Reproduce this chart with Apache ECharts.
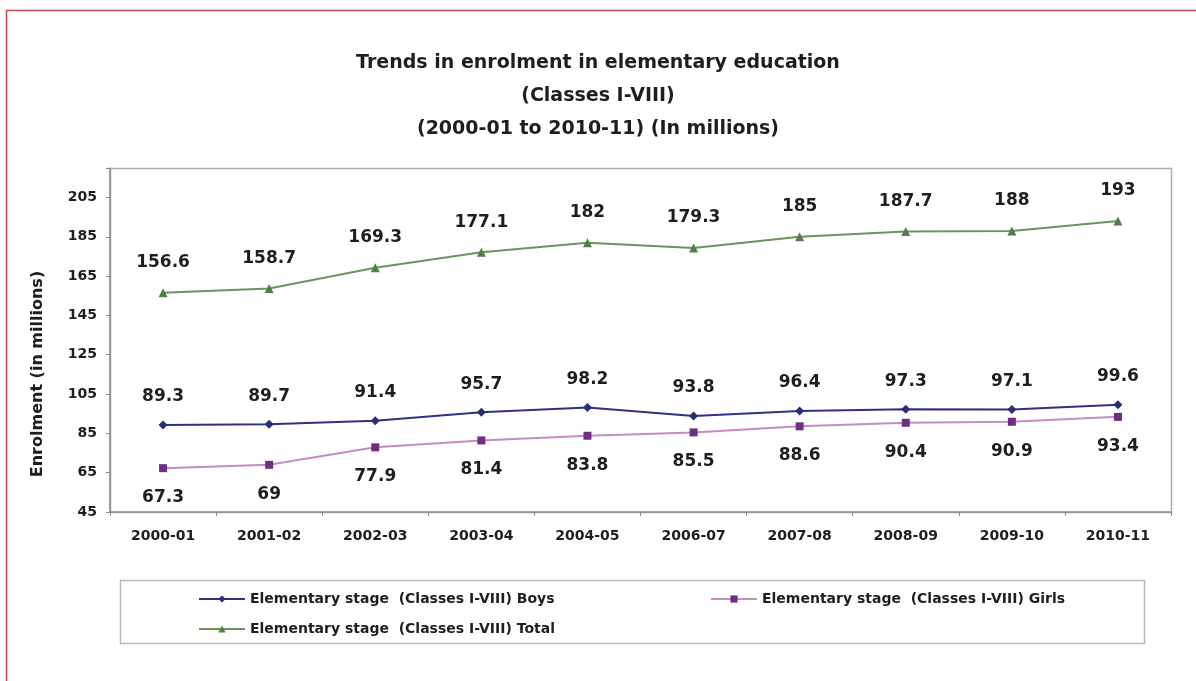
<!DOCTYPE html>
<html>
<head>
<meta charset="utf-8">
<script src="https://cdn.jsdelivr.net/npm/echarts@6/dist/echarts.min.js"></script>
<style>
  html, body { margin: 0; padding: 0; background: #fff; }
  #chart { width: 1196px; height: 681px; }
</style>
</head>
<body>
<div id="chart"></div>
<script>
// Enrolment in elementary education, in millions
const years = ['2000-01', '2001-02', '2002-03', '2003-04', '2004-05', '2006-07', '2007-08', '2008-09', '2009-10', '2010-11'];
const boys  = [89.3, 89.7, 91.4, 95.7, 98.2, 93.8, 96.4, 97.3, 97.1, 99.6];
const girls = [67.3, 69, 77.9, 81.4, 83.8, 85.5, 88.6, 90.4, 90.9, 93.4];
const total = [156.6, 158.7, 169.3, 177.1, 182, 179.3, 185, 187.7, 188, 193];
const yTicks = [45, 65, 85, 105, 125, 145, 165, 185, 205];

const nameBoys  = 'Elementary stage  (Classes I-VIII) Boys';
const nameGirls = 'Elementary stage  (Classes I-VIII) Girls';
const nameTotal = 'Elementary stage  (Classes I-VIII) Total';
const yTitle = 'Enrolment (in millions)';

const FONT = '"DejaVu Sans", Verdana, sans-serif';
const INK = '#1e1e1e';
const chart = echarts.init(document.getElementById('chart'));

const labelStyle = (pos, dist) => ({
  show: true, position: pos, distance: dist,
  fontFamily: FONT, fontWeight: 'bold', fontSize: 17, color: INK
});

const legendText = { fontFamily: FONT, fontWeight: 'bold', fontSize: 14, color: INK };
const legendItem = (name, left, top) => ({
  data: [name], left: left, top: top,
  itemWidth: 46, itemHeight: 9, itemGap: 6,
  textStyle: legendText
});

chart.setOption({
  backgroundColor: '#ffffff',
  animation: false,
  title: {
    text: 'Trends in enrolment in elementary education\n(Classes I-VIII)\n(2000-01 to 2010-11) (In millions)',
    left: 'center', top: 42,
    textStyle: { fontFamily: FONT, fontWeight: 'bold', fontSize: 19, lineHeight: 33, color: INK }
  },
  graphic: [
    { type: 'rect', shape: { x: 6.5, y: 10.5, width: 1200, height: 700 }, style: { fill: 'none', stroke: '#c0484c', lineWidth: 1.5 }, silent: true },
    { type: 'rect', shape: { x: 110.5, y: 168.5, width: 1061, height: 344 }, style: { fill: 'none', stroke: '#a9b4a9', lineWidth: 1.5 }, silent: true, z: 0 },
    { type: 'rect', shape: { x: 120.5, y: 580.5, width: 1024, height: 63 }, style: { fill: 'none', stroke: '#b8b8b8', lineWidth: 1.5 }, silent: true },
    {
      type: 'text', x: 38, y: 374, rotation: Math.PI / 2, silent: true,
      style: { text: yTitle, fontFamily: FONT, fontWeight: 'bold', fontSize: 16, fill: INK, align: 'center', verticalAlign: 'middle' }
    }
  ],
  grid: { left: 110, right: 25, top: 168, bottom: 169, containLabel: false },
  xAxis: {
    type: 'category', data: years, boundaryGap: true,
    axisLine: { lineStyle: { color: '#8a8a8a', width: 1.5 } },
    axisTick: { show: true, alignWithLabel: false, length: 4, lineStyle: { color: '#8a8a8a' } },
    axisLabel: { fontFamily: FONT, fontWeight: 'bold', fontSize: 14, color: INK, margin: 17 }
  },
  yAxis: {
    type: 'value', min: 45, max: 220, interval: 20,
    axisLine: { show: true, lineStyle: { color: '#8a8a8a', width: 1.5 } },
    axisTick: { show: true, length: 4, lineStyle: { color: '#8a8a8a' } },
    splitLine: { show: false },
    axisLabel: {
      fontFamily: FONT, fontWeight: 'bold', fontSize: 14, color: INK, margin: 13,
      formatter: v => (yTicks.indexOf(v) >= 0 ? String(v) : '')
    }
  },
  legend: [
    legendItem(nameBoys, 193, 587),
    legendItem(nameGirls, 705, 587),
    legendItem(nameTotal, 193, 617)
  ],
  series: [
    {
      name: nameBoys, type: 'line', data: boys,
      symbol: 'diamond', symbolSize: 9,
      lineStyle: { color: '#2e3282', width: 2 },
      itemStyle: { color: '#2a2d78' },
      label: labelStyle('top', 15)
    },
    {
      name: nameGirls, type: 'line', data: girls,
      symbol: 'rect', symbolSize: 8,
      lineStyle: { color: '#c58bc6', width: 2 },
      itemStyle: { color: '#6e2f80' },
      label: labelStyle('bottom', 17)
    },
    {
      name: nameTotal, type: 'line', data: total,
      symbol: 'triangle', symbolSize: 9,
      lineStyle: { color: '#6a955e', width: 2 },
      itemStyle: { color: '#4f8045' },
      label: labelStyle('top', 17)
    }
  ]
});
</script>
</body>
</html>
